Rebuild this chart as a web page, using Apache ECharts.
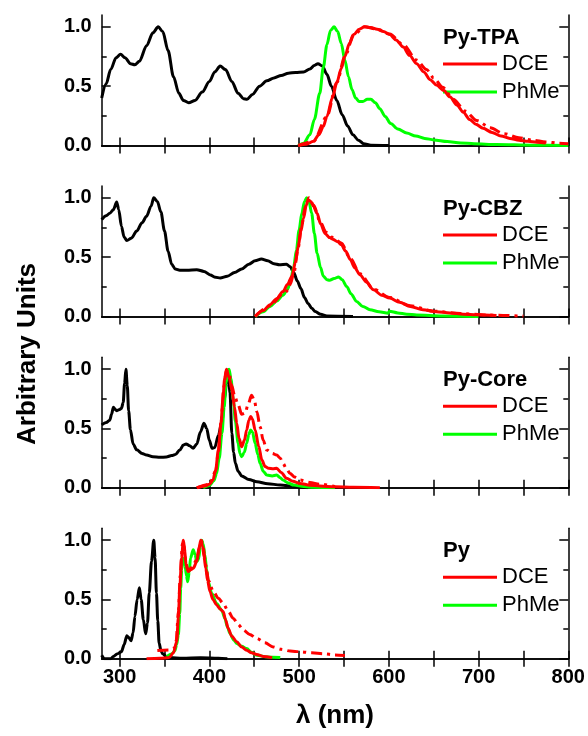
<!doctype html>
<html>
<head>
    <meta charset="utf-8">
    <title>Py spectra</title>
    <script type="text/javascript" src="https://cdn.jsdelivr.net/npm/echarts@6/dist/echarts.min.js"></script>
    <style>
        html, body { margin: 0; padding: 0; background: #fff; }
        #container { width: 588px; height: 736px; }
    </style>
</head>
<body>
<div id="container"></div>
<script type="text/javascript">

    /* x ticks / labels (nm) */
    var xTicks = [300, 350, 400, 450, 500, 550, 600, 650, 700, 750, 800];
    var xLabels = [300, 400, 500, 600, 700, 800];
    var yMajor = [0, 0.5, 1.0];
    var yMinor = [0.25, 0.75];

    var panelNames = ['Py-TPA', 'Py-CBZ', 'Py-Core', 'Py'];

    /* Py-TPA */
    var tpaAbs = [[280,0.40],[285,0.52],[290,0.64],[296,0.74],[301,0.77],[306,0.74],[312,0.69],[317,0.68],[322,0.71],[330,0.84],[337,0.95],[343,1.0],[348,0.96],[354,0.80],[360,0.58],[366,0.44],[371,0.38],[377,0.36],[384,0.38],[392,0.45],[400,0.54],[406,0.62],[412,0.67],[418,0.64],[425,0.54],[432,0.44],[438,0.395],[442,0.39],[448,0.43],[456,0.50],[464,0.545],[472,0.57],[480,0.59],[488,0.61],[496,0.615],[505,0.62],[512,0.645],[517,0.675],[521,0.69],[526,0.67],[531,0.60],[536,0.50],[542,0.38],[548,0.26],[554,0.165],[560,0.09],[566,0.045],[572,0.015],[580,0.003],[600,0]];
    var tpaDce = [[499,0],[508,0.01],[516,0.035],[522,0.09],[527,0.16],[531,0.245],[537,0.40],[542,0.53],[547,0.65],[551,0.75],[556,0.86],[561,0.935],[567,0.98],[573,1.0],[580,0.995],[587,0.98],[594,0.96],[601,0.935],[608,0.89],[616,0.83],[623,0.76],[631,0.69],[639,0.62],[646,0.555],[653,0.51],[661,0.465],[668,0.41],[676,0.34],[683,0.28],[690,0.22],[697,0.18],[705,0.145],[715,0.11],[725,0.08],[735,0.06],[745,0.045],[755,0.035],[765,0.028],[775,0.02]];
    var tpaDce2 = [[499,0],[516,0.035],[531,0.245],[542,0.53],[551,0.75],[561,0.935],[573,1.0],[587,0.98],[601,0.94],[616,0.85],[631,0.72],[642,0.64],[650,0.57],[660,0.49],[672,0.39],[685,0.29],[698,0.21],[713,0.15],[728,0.10],[745,0.065],[760,0.045],[775,0.03],[790,0.02],[800,0.015]];
    var tpaPhMe = [[499,0],[505,0.02],[512,0.09],[517,0.22],[523,0.44],[527,0.66],[531,0.85],[535,0.97],[539,1.0],[543,0.96],[547,0.86],[551,0.72],[555,0.58],[559,0.47],[563,0.40],[567,0.37],[571,0.37],[576,0.39],[580,0.39],[585,0.36],[590,0.31],[596,0.245],[602,0.185],[610,0.14],[620,0.105],[630,0.08],[640,0.06],[650,0.047],[665,0.033],[680,0.022],[695,0.015],[720,0.008],[760,0.003],[800,0]];

    /* Py-CBZ */
    var cbzAbs = [[280,0.817],[285,0.85],[289,0.87],[293,0.90],[296.7,0.966],[299,0.90],[302,0.76],[305,0.67],[308,0.64],[313,0.66],[319,0.72],[325,0.79],[330,0.845],[335,0.93],[338,1.0],[342,0.97],[346,0.88],[350,0.72],[354,0.55],[358,0.44],[362,0.40],[367,0.39],[375,0.39],[386,0.395],[394,0.38],[401,0.35],[407,0.33],[412,0.325],[420,0.34],[428,0.37],[436,0.40],[444,0.44],[451,0.47],[458,0.485],[465,0.47],[472,0.445],[478,0.437],[486,0.44],[490,0.42],[494,0.37],[498,0.30],[502,0.235],[506,0.16],[510,0.11],[514,0.07],[518,0.042],[524,0.018],[531,0.005],[560,0]];
    var cbzDce = [[451,0],[460,0.05],[467.6,0.1],[475,0.15],[482,0.21],[487,0.27],[492,0.34],[496,0.46],[499,0.59],[502,0.72],[505,0.83],[508,0.94],[510,0.985],[513,0.97],[516,0.93],[520,0.87],[524,0.78],[529,0.70],[534,0.665],[538,0.65],[543,0.63],[547,0.605],[552,0.55],[557,0.48],[562,0.41],[568,0.35],[575,0.29],[583,0.225],[592,0.18],[601,0.155],[612,0.12],[624,0.085],[638,0.057],[653,0.04],[668,0.03],[683,0.02],[698,0.015],[720,0.008]];
    var cbzDce2 = [[451,0],[467.6,0.09],[482,0.19],[488,0.22],[490,0.27],[494,0.36],[499,0.58],[503,0.78],[507,0.93],[511,1.0],[516,0.94],[524,0.79],[530,0.71],[538,0.665],[547,0.62],[557,0.49],[568,0.36],[583,0.23],[601,0.16],[624,0.09],[650,0.045],[680,0.025],[710,0.012],[750,0.003]];
    var cbzPhMe = [[451,0],[460,0.04],[467.6,0.085],[475,0.13],[482,0.18],[487,0.23],[490,0.28],[494,0.42],[497,0.56],[500,0.73],[503,0.87],[506,0.97],[508.5,1.0],[511,0.97],[514,0.87],[517,0.70],[520,0.535],[524,0.41],[527,0.34],[531,0.31],[534,0.305],[539,0.32],[544,0.333],[548,0.31],[553,0.253],[558,0.19],[564,0.127],[571,0.085],[579,0.057],[589,0.04],[599.5,0.028],[600.5,0.045],[610,0.03],[620,0.02],[631,0.012],[660,0.005],[700,0]];

    /* Py-Core */
    var coreAbs = [[280,0.53],[285,0.55],[289,0.57],[291,0.62],[293,0.68],[295,0.66],[297,0.65],[300,0.66],[302,0.67],[304,0.72],[305.5,0.88],[307,1.0],[308.5,0.86],[310,0.65],[312,0.49],[315,0.37],[319,0.32],[325,0.29],[330,0.276],[337,0.262],[345,0.257],[352,0.26],[358,0.272],[362,0.28],[367,0.318],[371,0.36],[374,0.37],[378,0.355],[382,0.333],[386,0.37],[390,0.47],[394,0.544],[397,0.50],[400,0.40],[403,0.333],[406,0.34],[410,0.44],[414,0.56],[417,0.75],[419,0.88],[421,0.995],[423,0.80],[425,0.46],[427,0.30],[429,0.206],[432,0.14],[436,0.10],[444,0.07],[453,0.05],[465,0.035],[479,0.023],[495,0.01],[510,0]];
    var coreDce = [[386,0],[395,0.015],[400,0.03],[404,0.065],[407,0.15],[410,0.318],[413,0.55],[415,0.74],[417,0.92],[419,1.0],[422,0.93],[425,0.825],[428,0.68],[430.5,0.544],[433,0.42],[436,0.346],[439,0.40],[441.6,0.487],[444,0.57],[446,0.60],[448,0.58],[451,0.487],[455,0.35],[458.5,0.234],[462,0.18],[466,0.164],[471,0.16],[475,0.164],[480,0.13],[486,0.08],[493,0.055],[501,0.037],[512,0.022],[523,0.015],[540,0.008],[560,0.004],[590,0]];
    var coreDce2 = [[386,0],[400,0.03],[407,0.14],[410,0.30],[413,0.55],[416,0.85],[419,0.99],[422,0.96],[425,0.86],[428,0.78],[432,0.70],[436,0.62],[440,0.63],[443,0.70],[447,0.78],[450,0.74],[453,0.64],[456.5,0.515],[460,0.40],[464,0.318],[470,0.29],[475,0.276],[479,0.25],[482,0.206],[486,0.16],[490,0.12],[495,0.09],[501,0.065],[512,0.045],[523,0.03],[540,0.01]];
    var corePhMe = [[393,0],[400,0.02],[405,0.06],[408,0.12],[411,0.25],[414,0.46],[416.5,0.68],[418.5,0.88],[420.5,0.98],[422,1.0],[424,0.92],[426.7,0.74],[429,0.56],[432,0.375],[434,0.29],[436,0.262],[439,0.30],[441.6,0.375],[444,0.45],[446,0.487],[448,0.47],[451,0.375],[454,0.28],[456.5,0.206],[460,0.14],[464,0.107],[470,0.10],[475,0.107],[479,0.085],[482,0.065],[488,0.04],[494,0.023],[505,0.01],[516,0.005],[540,0]];

    /* Py */
    var pyAbs = [[280,0.03],[283,0.0],[290,0.0],[293,0.02],[297,0.04],[302,0.06],[305,0.12],[308,0.195],[310,0.18],[312.7,0.152],[315,0.22],[317,0.357],[319.5,0.50],[322,0.598],[324,0.50],[326.4,0.33],[329,0.211],[331,0.30],[333,0.555],[335.5,0.82],[338,1.0],[339.5,0.85],[341,0.555],[342.5,0.32],[344,0.133],[346,0.07],[348,0.042],[352,0.02],[356,0.01],[370,0.005],[390,0.008],[410,0.005],[420,0]];
    var pyDce = [[330,0],[345,0.005],[355,0.01],[360,0.05],[363.5,0.144],[365.5,0.35],[367,0.594],[369,0.85],[371,1.0],[372.5,0.92],[374,0.79],[376.5,0.735],[379,0.75],[382,0.763],[386,0.82],[388.5,0.93],[390.4,1.0],[392.5,0.95],[394,0.86],[396,0.763],[398,0.66],[400.7,0.566],[404,0.50],[408,0.454],[412,0.42],[415.5,0.397],[418,0.33],[421,0.256],[425,0.19],[430.4,0.144],[436,0.10],[441.6,0.073],[447,0.05],[452.7,0.036],[460,0.02],[470,0.01]];
    var pyDce2 = [[342,0.07],[355,0.075],[360,0.08],[363,0.15],[365.5,0.4],[367.5,0.7],[370,0.97],[372,0.95],[373.5,0.82],[376,0.75],[379,0.76],[382,0.79],[386,0.84],[389,0.95],[391,1.0],[393,0.94],[396,0.79],[399,0.66],[404.4,0.566],[410,0.51],[415.5,0.467],[421,0.40],[426.7,0.34],[432,0.29],[437.8,0.243],[445,0.205],[452.7,0.172],[462,0.135],[471,0.10],[480,0.08],[490,0.065],[501,0.06],[514,0.05],[527,0.042],[540,0.033],[551,0.028]];
    var pyPhMe = [[352.4,0.017],[358,0.04],[361.7,0.07],[363.5,0.12],[365.4,0.2],[367,0.38],[368,0.594],[369.2,0.75],[370.3,0.85],[372.8,0.79],[374.5,0.70],[375.8,0.65],[377.5,0.73],[379,0.85],[382,0.92],[384,0.88],[386,0.82],[388,0.84],[390,0.95],[391.5,1.0],[393,0.97],[395,0.877],[397,0.75],[398.8,0.65],[402.6,0.552],[408,0.467],[413.7,0.41],[417.4,0.34],[420,0.27],[423,0.214],[427,0.16],[430.4,0.13],[436,0.105],[441.6,0.087],[447,0.055],[452.7,0.03],[465,0.015],[479,0.01]];

    var absList = [tpaAbs, cbzAbs, coreAbs, pyAbs];
    var dceList = [tpaDce, cbzDce, coreDce, pyDce];
    var dce2List = [tpaDce2, cbzDce2, coreDce2, pyDce2];
    var phmeList = [tpaPhMe, cbzPhMe, corePhMe, pyPhMe];

    var dom = document.getElementById("container");
    var myChart = echarts.init(dom);

    var font = 'Liberation Sans, Arial, Helvetica, sans-serif';
    var tops = [15, 186, 357.3, 528.3];
    var gridLeft = 101.7, gridW = 466.6, gridH = 130.5;

    var grids = [], xAxes = [], yAxes = [], series = [], titles = [], legends = [];
    var axisLine = {show: true, lineStyle: {color: '#000', width: 1.5}};

    for (var i = 0; i < 4; i++) {
        grids.push({left: gridLeft, top: tops[i], width: gridW, height: gridH});

        ['bottom', 'top'].forEach(function (pos) {
            xAxes.push({
                gridIndex: i, type: 'value', min: 280, max: 800, position: pos,
                axisLine: axisLine,
                axisTick: {show: true, inside: true, length: 8, customValues: xTicks, lineStyle: {color: '#000', width: 1.5}},
                axisLabel: {show: pos === 'bottom' && i === 3, customValues: xLabels, margin: 9,
                    color: '#000', fontFamily: font, fontSize: 20, fontWeight: 'bold'},
                splitLine: {show: false}
            });
        });

        ['left', 'right'].forEach(function (pos) {
            yAxes.push({
                gridIndex: i, type: 'value', min: 0, max: 1.1, position: pos,
                axisLine: axisLine,
                axisTick: {show: true, inside: true, length: 9, customValues: yMajor, lineStyle: {color: '#000', width: 1.5}},
                axisLabel: {show: pos === 'left', customValues: yMajor, margin: 10,
                    color: '#000', fontFamily: font, fontSize: 20, fontWeight: 'bold',
                    formatter: function (v) { return v.toFixed(1); }},
                splitLine: {show: false}
            });
            yAxes.push({
                gridIndex: i, type: 'value', min: 0, max: 1.1, position: pos,
                axisLine: {show: false},
                axisTick: {show: true, inside: true, length: 5, customValues: yMinor, lineStyle: {color: '#000', width: 1.5}},
                axisLabel: {show: false},
                splitLine: {show: false}
            });
        });

        var base = {type: 'line', xAxisIndex: i * 2, yAxisIndex: i * 4, showSymbol: false,
            smooth: 0.3, smoothMonotone: 'x', silent: true};
        series.push(Object.assign({}, base, {name: 'Abs', data: absList[i], z: 2,
            lineStyle: {color: '#000', width: 3}, itemStyle: {color: '#000'}}));
        series.push(Object.assign({}, base, {name: 'PhMe', data: phmeList[i], z: 3,
            lineStyle: {color: '#00ff00', width: 3}, itemStyle: {color: '#00ff00'}}));
        series.push(Object.assign({}, base, {name: 'DCE-2', data: dce2List[i], z: 4,
            lineStyle: {color: '#ff0000', width: 3, type: [11, 5, 3, 5]}, itemStyle: {color: '#ff0000'}}));
        series.push(Object.assign({}, base, {name: 'DCE', data: dceList[i], z: 5,
            lineStyle: {color: '#ff0000', width: 3}, itemStyle: {color: '#ff0000'}}));

        titles.push({text: panelNames[i], left: 443, top: tops[i] + 12, padding: 0,
            textStyle: {color: '#000', fontFamily: font, fontSize: 22, fontWeight: 'bold'}});

        legends.push({
            data: [{name: 'DCE', icon: 'rect'}, {name: 'PhMe', icon: 'rect'}],
            orient: 'vertical', left: 443, top: tops[i] + 38, padding: 0,
            itemWidth: 54, itemHeight: 3, itemGap: 6, selectedMode: false,
            textStyle: {color: '#000', fontFamily: font, fontSize: 22}
        });
    }

    var option = {
        animation: false,
        backgroundColor: '#fff',
        title: titles,
        legend: legends,
        grid: grids,
        xAxis: xAxes,
        yAxis: yAxes,
        series: series,
        graphic: [
            {type: 'text', x: 28, y: 354, rotation: Math.PI / 2,
                style: {text: 'Arbitrary Units', fill: '#000', font: 'bold 26px ' + font,
                    x: 0, y: 0, align: 'center', verticalAlign: 'middle'}},
            {type: 'text', x: 335, y: 716,
                style: {text: 'λ (nm)', fill: '#000', font: 'bold 26px ' + font,
                    x: 0, y: 0, align: 'center', verticalAlign: 'middle'}}
        ]
    };

    myChart.setOption(option, true);

</script>
</body>
</html>
